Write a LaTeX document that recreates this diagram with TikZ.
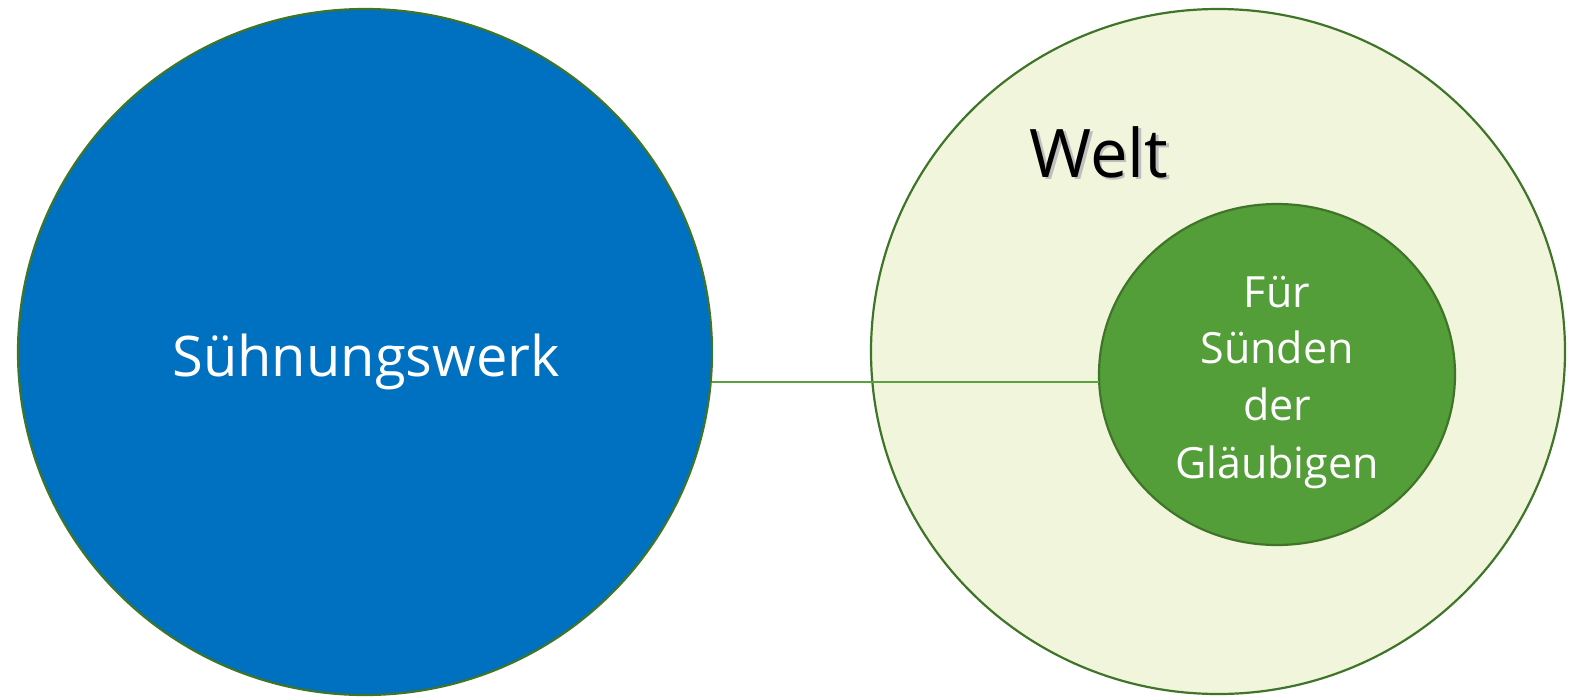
\documentclass[tikz,border=0pt]{standalone}
\usepackage{fontspec}
\setmainfont{Open Sans}
\definecolor{bluefill}{HTML}{0070C0}
\definecolor{darkgreen}{HTML}{3F7528}
\definecolor{lightfill}{HTML}{F1F5DB}
\definecolor{midgreen}{HTML}{549E39}
\definecolor{linegreen}{HTML}{5BA23F}
\tikzset{
  circ/.style={ellipse, draw=darkgreen, line width=2.2pt, inner sep=0pt},
  lbl/.style={text=white, align=center},
}
\usetikzlibrary{shapes.geometric}
\begin{document}
\begin{tikzpicture}[x=1pt,y=-1pt]
\useasboundingbox (0,0) rectangle (1573,699);
\node[circ, fill=bluefill, minimum width=694pt, minimum height=686pt] (left) at (365,352) {};
\node[circ, fill=lightfill, minimum width=694pt, minimum height=685pt] (right) at (1218,351.5) {};
\node[circ, fill=midgreen, minimum width=356pt, minimum height=341pt] (inner) at (1277,374.5) {};
\coordinate (lstart) at (712,382);
\coordinate (lend) at (1099,382);
\draw[linegreen, line width=2.2pt] (lstart) -- (lend);
\node[lbl, font=\fontsize{56}{64}\selectfont, anchor=base] (suhn) at (366,376) {Sühnungswerk};
\node[text=black!25, font=\fontsize{67}{75}\selectfont, anchor=base] (weltsh) at (1101.5,179.5) {Welt};
\node[text=black, font=\fontsize{67}{75}\selectfont, anchor=base] (welt) at (1099,177) {Welt};
\node[lbl, font=\fontsize{43}{57}\selectfont, anchor=base] (l1) at (1277,307) {Für};
\node[lbl, font=\fontsize{43}{57}\selectfont, anchor=base] (l2) at (1277,363) {Sünden};
\node[lbl, font=\fontsize{43}{57}\selectfont, anchor=base] (l3) at (1277,420) {der};
\node[lbl, font=\fontsize{43}{57}\selectfont, anchor=base] (l4) at (1277,478) {Gläubigen};
\end{tikzpicture}
\end{document}
